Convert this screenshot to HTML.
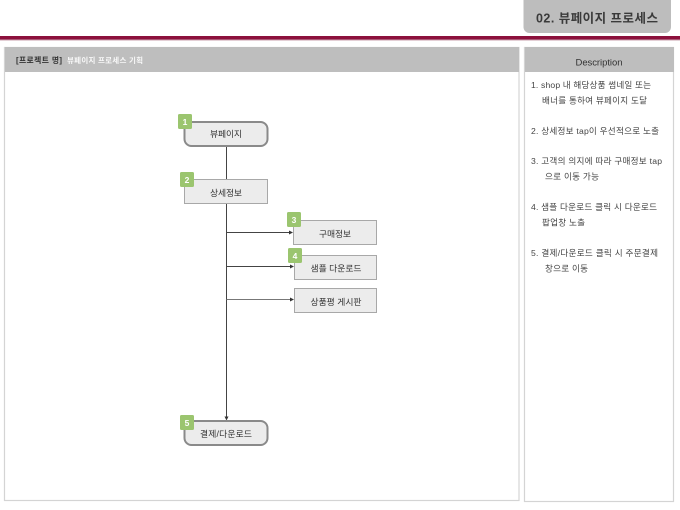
<!DOCTYPE html>
<html lang="ko">
<head>
<meta charset="utf-8">
<style>
html,body{margin:0;padding:0;background:#fff}
svg{display:block}
text{font-family:"Liberation Sans","Noto Sans CJK KR",sans-serif}
</style>
</head>
<body>
<svg width="680" height="510" viewBox="0 0 680 510" xmlns="http://www.w3.org/2000/svg">
<rect width="680" height="510" fill="#fff"/>
<!-- Title tab -->
<path d="M523.5 0H671V27a6 6 0 0 1-6 6H529.5a6 6 0 0 1-6-6Z" fill="#bdbdbd"/>
<text x="597" y="22.5" font-size="12.5" font-weight="700" fill="#3a3a3a" text-anchor="middle" textLength="122">02. 뷰페이지 프로세스</text>
<!-- Red rule -->
<rect x="0" y="36" width="680" height="3.5" fill="#8c103c"/>
<rect x="0" y="39.5" width="680" height="1" fill="#c9a0ae"/>
<!-- Left panel -->
<rect x="4.5" y="47.5" width="514.5" height="453" fill="#fff" stroke="#d4d4d4" stroke-width="1.2"/>
<rect x="5" y="47" width="514" height="25" fill="#bebebe"/>
<text x="16" y="63" font-size="7.8" font-weight="700" fill="#333" textLength="46">[프로젝트 명]</text>
<text x="67" y="63" font-size="7.5" font-weight="700" fill="#f8f8f8" textLength="76">뷰페이지 프로세스 기획</text>
<!-- Right panel -->
<rect x="524.5" y="47.5" width="149" height="454" fill="#fff" stroke="#d4d4d4" stroke-width="1.2"/>
<rect x="525" y="47" width="149" height="25" fill="#bebebe"/>
<text x="599" y="65.5" font-size="9.5" fill="#333" text-anchor="middle" textLength="47">Description</text>
<g font-size="8.6" fill="#444">
<text x="531" y="88" textLength="120">1. shop 내 해당상품 썸네일 또는</text>
<text x="542" y="103.5" textLength="105">배너를 통하여 뷰페이지 도달</text>
<text x="531" y="134" textLength="128">2. 상세정보 tap이 우선적으로 노출</text>
<text x="531" y="164" textLength="131">3. 고객의 의지에 따라 구매정보 tap</text>
<text x="545" y="179.5" textLength="54">으로 이동 가능</text>
<text x="531" y="210" textLength="126">4. 샘플 다운로드 클릭 시 다운로드</text>
<text x="542" y="225.5" textLength="43">팝업창 노출</text>
<text x="531" y="256" textLength="127">5. 결제/다운로드 클릭 시 주문결제</text>
<text x="545" y="271.5" textLength="43">창으로 이동</text>
</g>
<!-- Connectors -->
<g stroke="#444" stroke-width="1" fill="none">
<line x1="226.5" y1="146" x2="226.5" y2="180"/>
<line x1="226.5" y1="204" x2="226.5" y2="417"/>
<line x1="226.5" y1="232.5" x2="290" y2="232.5"/>
<line x1="226.5" y1="266.5" x2="291" y2="266.5"/>
<line x1="226.5" y1="299.5" x2="291" y2="299.5" stroke="#777"/>
</g>
<g fill="#333">
<path d="M293 232.5l-4-2v4Z"/>
<path d="M294 266.5l-4-2v4Z"/>
<path d="M294 299.5l-4-2v4Z"/>
<path d="M226.5 420.5l-2-4h4Z"/>
</g>
<!-- Nodes -->
<g fill="#ececec" stroke="#8a8a8a">
<rect x="184.5" y="122" width="83" height="24" rx="7" stroke-width="2"/>
<rect x="184.5" y="179.5" width="83" height="24" stroke="#a8a8a8"/>
<rect x="293.5" y="220.5" width="83" height="24" stroke="#a8a8a8"/>
<rect x="294.5" y="255.5" width="82" height="24" stroke="#a8a8a8"/>
<rect x="294.5" y="288.5" width="82" height="24" stroke="#a8a8a8"/>
<rect x="184.5" y="421" width="83" height="24" rx="7" stroke-width="2"/>
</g>
<g font-size="8.8" fill="#333" text-anchor="middle">
<text x="226" y="137" textLength="32">뷰페이지</text>
<text x="226" y="196" textLength="32">상세정보</text>
<text x="335" y="237" textLength="32">구매정보</text>
<text x="336" y="271.5" textLength="51">샘플 다운로드</text>
<text x="336" y="305" textLength="51">상품평 게시판</text>
<text x="226" y="437" textLength="52">결제/다운로드</text>
</g>
<!-- Badges -->
<g fill="#9bc56f">
<rect x="178" y="114" width="14" height="15" rx="1.5"/>
<rect x="180" y="172" width="14" height="15" rx="1.5"/>
<rect x="287" y="212" width="14" height="15" rx="1.5"/>
<rect x="288" y="248" width="14" height="15" rx="1.5"/>
<rect x="180" y="415" width="14" height="15" rx="1.5"/>
</g>
<g font-size="8.5" font-weight="700" fill="#fff" text-anchor="middle">
<text x="185" y="125">1</text>
<text x="187" y="183">2</text>
<text x="294" y="223">3</text>
<text x="295" y="259">4</text>
<text x="187" y="426">5</text>
</g>
</svg>
</body>
</html>
